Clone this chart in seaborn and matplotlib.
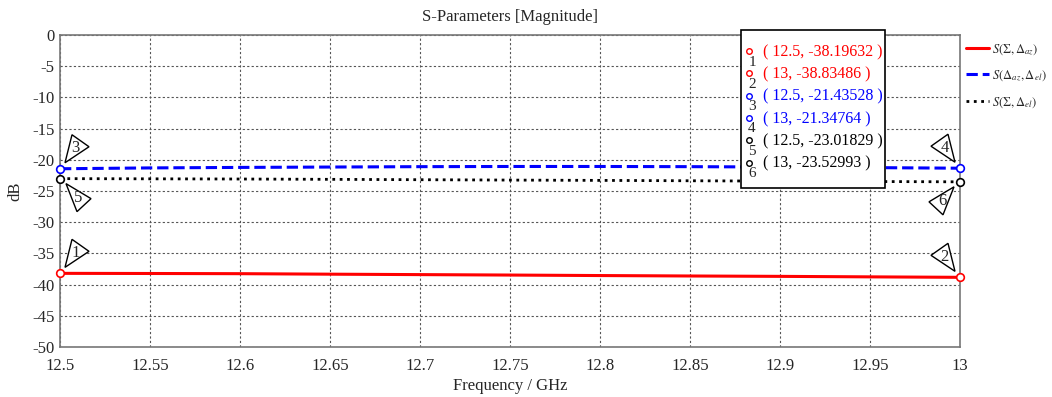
import matplotlib
matplotlib.use("Agg")
import matplotlib.pyplot as plt
import numpy as np
import pandas as pd
import seaborn as sns
from matplotlib.patches import Polygon, Rectangle
from matplotlib.ticker import FuncFormatter, MultipleLocator

# frequency points (GHz)
freq = [12.5, 12.55, 12.6, 12.65, 12.7, 12.75, 12.8, 12.85, 12.9, 12.95, 13.0]
# S(Sigma, Delta_az)
s_sum_az = [-38.19632, -38.22, -38.25, -38.33, -38.40, -38.47, -38.55, -38.62, -38.68, -38.76, -38.83486]
# S(Delta_az, Delta_el)
s_az_el = [-21.43528, -21.30, -21.22, -21.16, -21.10, -21.07, -21.07, -21.10, -21.16, -21.25, -21.34764]
# S(Sigma, Delta_el)
s_sum_el = [-23.01829, -23.05, -23.08, -23.13, -23.19, -23.25, -23.30, -23.36, -23.42, -23.48, -23.52993]

series_names = [r"$S(\Sigma,\Delta_{az})$", r"$S(\Delta_{az},\Delta_{el})$", r"$S(\Sigma,\Delta_{el})$"]
series_colors = ["#ff0000", "#0000ff", "#000000"]
marker_labels = ["( 12.5, -38.19632 )", "( 13, -38.83486 )", "( 12.5, -21.43528 )",
                 "( 13, -21.34764 )", "( 12.5, -23.01829 )", "( 13, -23.52993 )"]

sns.set_style("white")
plt.rcParams["font.family"] = ["Liberation Serif", "DejaVu Serif"]
plt.rcParams["mathtext.fontset"] = "stix"
plt.rcParams["axes.unicode_minus"] = False

fig = plt.figure(figsize=(10.52, 3.97), dpi=100)
ax = fig.add_axes([60 / 1052, 1 - 347 / 397, 900 / 1052, 312 / 397])

styles = ["-", "--", ":"]
widths = [2.2, 2.2, 2.0]
all_series = [s_sum_az, s_az_el, s_sum_el]
for vals, name, col, ls, lw in zip(all_series, series_names, series_colors, styles, widths):
    df = pd.DataFrame({"freq": freq, "dB": vals})
    sns.lineplot(data=df, x="freq", y="dB", ax=ax, color=col, linestyle=ls, linewidth=lw, label=name)

ax.set_xlim(12.5, 13)
ax.set_ylim(-50, 0)
ax.xaxis.set_major_locator(MultipleLocator(0.05))
ax.yaxis.set_major_locator(MultipleLocator(5))
ax.xaxis.set_major_formatter(FuncFormatter(lambda v, p: "%g" % round(v, 3)))
ax.yaxis.set_major_formatter(FuncFormatter(lambda v, p: "%g" % round(v, 3)))
ax.grid(True, color="#555555", linestyle=(0, (2, 2)), linewidth=0.8)
for sp in ax.spines.values():
    sp.set_color("#777777")
    sp.set_linewidth(1.2)
ax.tick_params(axis="both", labelsize=12, length=3, color="#555555", pad=1)
ax.tick_params(axis="x", pad=5)
ax.set_xlabel("Frequency / GHz", fontsize=12, labelpad=3)
ax.set_ylabel("dB", fontsize=12, labelpad=6)
ax.set_title("S-Parameters [Magnitude]", fontsize=12, pad=10)

leg = ax.legend(loc="upper left", bbox_to_anchor=(1.004, 0.985), frameon=False, fontsize=9,
                handlelength=1.8, handletextpad=0.3, borderaxespad=0, borderpad=0.2,
                labelspacing=0.95)

# end markers with triangle callouts
pts = [(freq[0], s_sum_az[0]), (freq[-1], s_sum_az[-1]),
       (freq[0], s_az_el[0]), (freq[-1], s_az_el[-1]),
       (freq[0], s_sum_el[0]), (freq[-1], s_sum_el[-1])]
mcols = ["#ff0000", "#ff0000", "#0000ff", "#0000ff", "#000000", "#000000"]
up_shape = [(5, -6), (12, -34), (29, -22)]
down_shape = [(6, 5), (31, 20), (17, 33)]
shapes = [up_shape, up_shape, up_shape, up_shape, down_shape, down_shape]
inv = fig.transFigure.inverted()
for i, ((x, y), c, shp) in enumerate(zip(pts, mcols, shapes)):
    ax.plot(x, y, marker="o", markersize=5.5, markerfacecolor="white",
            markeredgecolor=c, markeredgewidth=1.2, clip_on=False, zorder=6)
    sgn = 1 if x == freq[0] else -1
    disp = ax.transData.transform((x, y))
    fverts = [inv.transform((disp[0] + sgn * dx, disp[1] - dy)) for dx, dy in shp]
    fig.patches.append(Polygon(fverts, closed=True, fill=True, facecolor="white",
                               edgecolor="black", linewidth=1.0, transform=fig.transFigure, zorder=7))
    cx = np.mean([v[0] for v in fverts])
    cy = np.mean([v[1] for v in fverts])
    fig.text(cx, cy, str(i + 1), ha="center", va="center", fontsize=12, zorder=8)

# marker value box
box_l, box_r, box_t, box_b = 741, 885, 30, 188
fig.patches.append(Rectangle((box_l / 1052, 1 - box_b / 397), (box_r - box_l) / 1052, (box_b - box_t) / 397,
                             transform=fig.transFigure, facecolor="white", edgecolor="black",
                             linewidth=1.2, zorder=9))
for i, (lab, c) in enumerate(zip(marker_labels, mcols)):
    yy = 52 + i * 22.3
    fig.lines.append(plt.Line2D([749 / 1052], [1 - (yy - 1) / 397], marker="o", markersize=4,
                                markerfacecolor="white", markeredgecolor=c, markeredgewidth=1.0,
                                transform=fig.transFigure, zorder=10))
    fig.text(752 / 1052, 1 - (yy + 10) / 397, str(i + 1), ha="center", va="center", fontsize=11, zorder=10)
    fig.text(763 / 1052, 1 - yy / 397, lab, ha="left", va="center", fontsize=11.5, color=c, zorder=10)

fig.savefig("out.png", dpi=100)
